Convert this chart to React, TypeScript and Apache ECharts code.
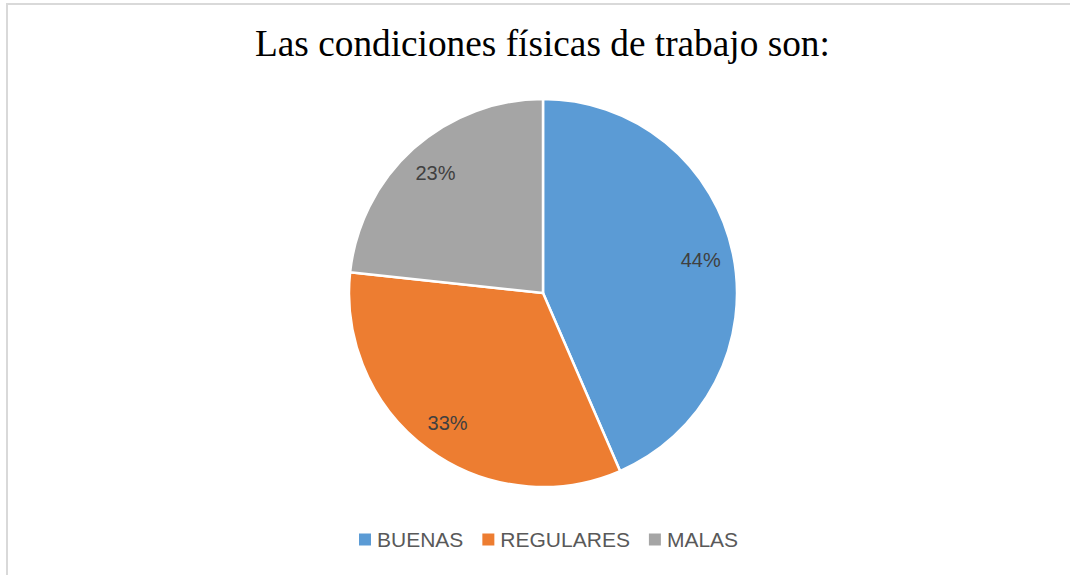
import React, { useEffect, useRef } from "react";
import * as echarts from "echarts";

const title = "Las condiciones físicas de trabajo son:";
const categories = ["BUENAS", "REGULARES", "MALAS"];
const values = [43.5, 33.2, 23.3];
const colors = ["#5B9BD5", "#ED7D31", "#A5A5A5"];

export default function App() {
  const ref = useRef<HTMLDivElement>(null);
  useEffect(() => {
    if (!ref.current) return;
    const chart = echarts.init(ref.current, undefined, { renderer: "svg" });
    const data = categories.map((name, i) => ({
      name,
      value: values[i],
      itemStyle: { color: colors[i] },
    }));
    chart.setOption({
      animation: false,
      backgroundColor: "#ffffff",
      title: {
        text: title,
        left: 255,
        top: 25,
        padding: 0,
        textStyle: {
          fontFamily: "Liberation Serif",
          fontSize: 37.3,
          fontWeight: "normal",
          color: "#000000",
        },
      },
      graphic: [
        {
          type: "rect",
          shape: { x: 7, y: 4, width: 1100, height: 620 },
          style: { fill: "none", stroke: "#d9d9d9", lineWidth: 2 },
          silent: true,
        },
      ],
      legend: {
        data: categories,
        bottom: 20,
        left: 352,
        icon: "rect",
        itemWidth: 14,
        itemHeight: 14,
        itemGap: 17,
        textStyle: {
          fontFamily: "Liberation Sans",
          fontSize: 21,
          color: "#595959",
        },
      },
      series: [
        {
          type: "pie",
          center: [543, 293],
          radius: [0, 194],
          startAngle: 90,
          clockwise: true,
          data,
          label: { show: false },
          labelLine: { show: false },
          itemStyle: { borderColor: "#ffffff", borderWidth: 2.5 },
          emphasis: { disabled: true },
        },
        {
          type: "pie",
          center: [543, 293],
          radius: [122, 194],
          startAngle: 90,
          clockwise: true,
          silent: true,
          percentPrecision: 0,
          data: data.map((d) => ({ ...d, itemStyle: { color: "transparent" } })),
          label: {
            show: true,
            position: "inside",
            formatter: "{d}%",
            fontFamily: "Liberation Sans",
            fontSize: 20,
            color: "#404040",
          },
          labelLine: { show: false },
          emphasis: { disabled: true },
        },
      ],
    });
    return () => chart.dispose();
  }, []);
  return (
    <div
      ref={ref}
      style={{ position: "fixed", left: 0, top: 0, width: 1070, height: 575 }}
    />
  );
}
